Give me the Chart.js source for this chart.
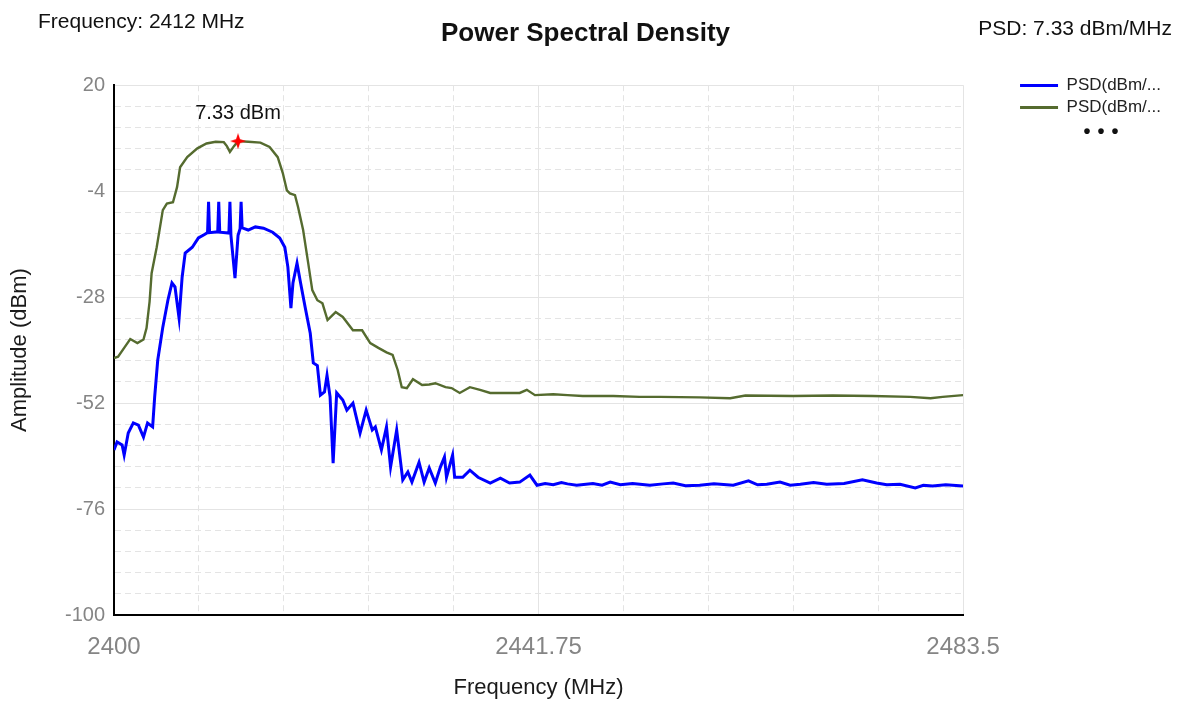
<!DOCTYPE html>
<html>
<head>
<meta charset="utf-8">
<title>Power Spectral Density</title>
<script src="https://cdn.jsdelivr.net/npm/chart.js@4.4.1/dist/chart.umd.min.js"></script>
<style>
  html, body { margin: 0; padding: 0; background: #fff; }
</style>
</head>
<body>
<canvas id="psdChart" width="1186" height="702"></canvas>
<script>
// trace values
var blueFreq = [2400.0, 2400.3, 2400.8, 2401.0, 2401.4, 2401.9, 2402.4, 2402.9, 2403.3, 2403.8,
  2404.0, 2404.3, 2404.8, 2405.3, 2405.7, 2406.0, 2406.4, 2406.7, 2407.0, 2407.7,
  2408.3, 2408.9, 2409.2, 2409.3, 2409.4, 2410.2, 2410.3, 2410.4, 2411.3, 2411.4,
  2411.5, 2411.9, 2412.2, 2412.4, 2412.5, 2412.6, 2413.2, 2413.9, 2414.7, 2415.6,
  2416.3, 2416.8, 2417.1, 2417.4, 2417.6, 2418.0, 2418.3, 2418.8, 2419.3, 2419.6,
  2420.0, 2420.3, 2420.7, 2420.95, 2421.25, 2421.55, 2421.9, 2422.5, 2422.9, 2423.5,
  2424.2, 2424.8, 2425.4, 2425.7, 2426.3, 2426.8, 2427.2, 2427.8, 2428.4, 2428.9,
  2429.3, 2430.0, 2430.5, 2431.0, 2431.6, 2432.1, 2432.5, 2432.7, 2433.3, 2433.5,
  2434.3, 2435.0, 2435.8, 2437.0, 2438.0, 2438.9, 2439.9, 2440.9, 2441.6, 2442.4,
  2443.2, 2444.0, 2444.6, 2445.5, 2447.1, 2448.0, 2448.8, 2449.8, 2451.0, 2452.7,
  2454.0, 2455.0, 2456.2, 2457.6, 2459.0, 2460.9, 2462.4, 2463.3, 2464.2, 2465.5,
  2466.5, 2467.5, 2468.8, 2470.1, 2471.8, 2473.6, 2475.0, 2476.0, 2477.3, 2478.8,
  2479.6, 2480.5, 2481.8, 2483.5];
var bluePsd = [-62.6, -60.8, -61.5, -63.8, -58.8, -56.5, -57.0, -59.7, -56.5, -57.4,
  -50.6, -42.3, -34.8, -28.7, -24.8, -25.7, -32.8, -23.5, -18.0, -16.7,
  -14.6, -13.8, -13.4, -6.4, -13.4, -13.2, -6.4, -13.3, -13.5, -6.4,
  -14.0, -23.7, -14.0, -12.5, -6.4, -12.3, -12.8, -12.1, -12.4, -13.3,
  -14.6, -16.7, -21.2, -30.5, -24.8, -20.3, -24.2, -30.3, -36.2, -42.9,
  -43.5, -50.2, -49.5, -45.7, -50.6, -65.6, -49.7, -51.3, -53.6, -52.0,
  -58.8, -53.6, -58.1, -57.4, -62.6, -57.4, -66.5, -58.1, -69.4, -67.6,
  -69.9, -65.4, -69.9, -66.7, -70.1, -66.5, -64.2, -68.8, -63.8, -68.8,
  -68.8, -67.2, -68.8, -70.1, -69.0, -70.1, -69.9, -68.3, -70.6, -70.2,
  -70.5, -70.0, -70.3, -70.6, -70.2, -70.6, -69.9, -70.5, -70.2, -70.6,
  -70.3, -70.1, -70.7, -70.6, -70.3, -70.6, -69.6, -70.5, -70.4, -69.9,
  -70.6, -70.4, -70.0, -70.4, -70.2, -69.4, -70.1, -70.5, -70.4, -71.2,
  -70.6, -70.8, -70.5, -70.8];

var greenFreq = [2400.0, 2400.4, 2401.0, 2401.6, 2402.3, 2402.9, 2403.2, 2403.5, 2403.7, 2404.2,
  2404.8, 2405.2, 2405.8, 2406.2, 2406.5, 2407.2, 2408.2, 2409.1, 2410.0, 2410.8,
  2411.1, 2411.4, 2411.8, 2412.2, 2413.2, 2414.4, 2415.3, 2416.1, 2416.6, 2417.0,
  2417.3, 2417.8, 2418.1, 2418.6, 2419.1, 2419.5, 2420.0, 2420.5, 2421.0, 2421.8,
  2422.5, 2423.5, 2424.4, 2425.2, 2426.0, 2426.8, 2427.4, 2427.9, 2428.3, 2428.8,
  2429.4, 2430.3, 2431.0, 2431.6, 2432.6, 2433.2, 2434.0, 2435.0, 2436.0, 2437.0,
  2438.3, 2439.9, 2440.6, 2441.4, 2443.2, 2444.6, 2446.1, 2449.1, 2451.7, 2453.7,
  2457.6, 2460.6, 2462.1, 2466.8, 2470.7, 2474.6, 2478.3, 2480.3, 2481.5, 2483.5];
var greenPsd = [-41.8, -41.5, -39.5, -37.5, -38.4, -37.6, -35.0, -29.0, -22.6, -16.7,
  -8.3, -6.8, -6.5, -3.1, 1.4, 3.7, 5.7, 6.8, 7.2, 7.1,
  6.2, 4.9, 6.2, 7.33, 7.2, 7.0, 6.0, 3.7, 0.1, -3.8,
  -4.5, -4.9, -7.6, -12.8, -20.3, -26.4, -28.7, -29.4, -33.2, -31.4,
  -32.5, -35.5, -35.5, -38.4, -39.5, -40.5, -41.1, -44.5, -48.4, -48.6,
  -46.6, -47.9, -47.8, -47.5, -48.4, -48.6, -49.7, -48.4, -49.0, -49.7,
  -49.7, -49.7, -49.0, -50.2, -50.0, -50.2, -50.4, -50.4, -50.6, -50.6,
  -50.7, -50.9, -50.3, -50.4, -50.3, -50.4, -50.6, -50.9, -50.6, -50.2];

var seriesLabels = ['PSD(dBm/...', 'PSD(dBm/...'];
var markerFreq = [2412.2];
var markerPsd = [7.33];
var headerTexts = ['Frequency: 2412 MHz', 'PSD: 7.33 dBm/MHz'];
var xTickLabels = ['2400', '2441.75', '2483.5'];
var yTickLabels = ['-100', '-76', '-52', '-28', '-4', '20'];

var FONT = '"Liberation Sans", Arial, sans-serif';
Chart.defaults.font.family = FONT;
Chart.defaults.color = '#222';

function toPoints(xs, ys) {
    return xs.map(function (x, i) { return { x: x, y: ys[i] }; });
}

// little red 4-point star for the peak marker
var star = document.createElement('canvas');
star.width = 16;
star.height = 16;
(function () {
    var c = star.getContext('2d');
    c.fillStyle = '#ff0000';
    c.beginPath();
    c.moveTo(8, 0);
    c.lineTo(10, 6);
    c.lineTo(16, 8);
    c.lineTo(10, 10);
    c.lineTo(8, 16);
    c.lineTo(6, 10);
    c.lineTo(0, 8);
    c.lineTo(6, 6);
    c.closePath();
    c.fill();
})();

// header texts, marker label and the "more" dots under the legend
var extrasPlugin = {
    id: 'extras',
    afterLayout: function (chart) {
        // legend is full height on the right, push it down next to the plot top
        chart.legend.top += 72;
        chart.legend.bottom += 72;
    },
    afterDraw: function (chart) {
        var c = chart.ctx;
        c.save();
        c.fillStyle = '#111';
        c.font = '21px ' + FONT;
        c.textBaseline = 'middle';
        c.textAlign = 'left';
        c.fillText(headerTexts[0], 38, 22);
        c.textAlign = 'right';
        c.fillText(headerTexts[1], 1172, 29);

        var pt = chart.getDatasetMeta(2).data[0];
        c.textAlign = 'center';
        c.font = '20px ' + FONT;
        c.fillText(markerPsd[0].toFixed(2) + ' dBm', pt.x, pt.y - 28);

        c.font = 'bold 20px ' + FONT;
        for (var k = 0; k < 3; k++) {
            c.fillText('\u2022', 1087 + k * 14, 132);
        }
        c.restore();
    }
};

var gridColor = '#e4e4e4';

var ctx = document.getElementById('psdChart').getContext('2d');
var chart = new Chart(ctx, {
    type: 'line',
    data: {
        datasets: [{
            label: seriesLabels[0],
            data: toPoints(blueFreq, bluePsd),
            borderColor: '#0000ff',
            backgroundColor: '#0000ff',
            borderWidth: 3,
            pointRadius: 0,
            tension: 0
        }, {
            label: seriesLabels[1],
            data: toPoints(greenFreq, greenPsd),
            borderColor: '#556b2f',
            backgroundColor: '#556b2f',
            borderWidth: 2.4,
            pointRadius: 0,
            tension: 0
        }, {
            label: 'marker',
            data: toPoints(markerFreq, markerPsd),
            showLine: false,
            pointStyle: star,
            pointRadius: 8,
            order: -1
        }]
    },
    options: {
        responsive: false,
        animation: false,
        layout: { padding: { right: 15 } },
        scales: {
            x: {
                type: 'linear',
                min: 2400,
                max: 2483.5,
                afterFit: function (s) { s.height = 87; },
                ticks: {
                    stepSize: 8.35,
                    autoSkip: false,
                    maxRotation: 0,
                    padding: 18,
                    color: '#858585',
                    font: { size: 24 },
                    callback: function (v, i) { return i % 5 === 0 ? xTickLabels[i / 5] : ''; }
                },
                grid: {
                    drawTicks: false,
                    color: gridColor
                },
                border: {
                    color: '#000',
                    width: 2,
                    dash: function (c) { return c.index % 5 === 0 ? [] : [6, 4]; }
                },
                title: {
                    display: true,
                    text: 'Frequency (MHz)',
                    font: { size: 22 },
                    color: '#1a1a1a',
                    padding: { top: 0, bottom: 1 }
                }
            },
            y: {
                min: -100,
                max: 20,
                afterFit: function (s) { s.width = 114; },
                ticks: {
                    stepSize: 4.8,
                    autoSkip: false,
                    padding: 9,
                    color: '#858585',
                    font: { size: 20 },
                    callback: function (v, i) { return i % 5 === 0 ? yTickLabels[i / 5] : ''; }
                },
                grid: {
                    drawTicks: false,
                    color: gridColor
                },
                border: {
                    color: '#000',
                    width: 2,
                    dash: function (c) { return c.index % 5 === 0 ? [] : [6, 4]; }
                },
                title: {
                    display: true,
                    text: 'Amplitude (dBm)',
                    font: { size: 22 },
                    color: '#1a1a1a',
                    padding: { top: 7, bottom: 0 }
                }
            },
            // empty box between the plot and the legend
            spacer: {
                type: 'linear',
                position: 'right',
                afterFit: function (s) { s.width = 52; },
                ticks: { display: false },
                grid: { display: false },
                border: { display: false }
            }
        },
        plugins: {
            title: {
                display: true,
                text: 'Power Spectral Density',
                color: '#111',
                font: { size: 26, weight: 'bold' },
                padding: { top: 18, bottom: 36 }
            },
            legend: {
                position: 'right',
                align: 'start',
                labels: {
                    boxWidth: 38,
                    boxHeight: 3,
                    padding: 5,
                    color: '#222',
                    font: { size: 17 },
                    generateLabels: function (chart) {
                        var items = Chart.defaults.plugins.legend.labels.generateLabels(chart);
                        return items.filter(function (it) { return it.datasetIndex < 2; })
                            .map(function (it) { it.lineWidth = 0; return it; });
                    }
                }
            },
            tooltip: { enabled: false }
        }
    },
    plugins: [extrasPlugin]
});
</script>
</body>
</html>
